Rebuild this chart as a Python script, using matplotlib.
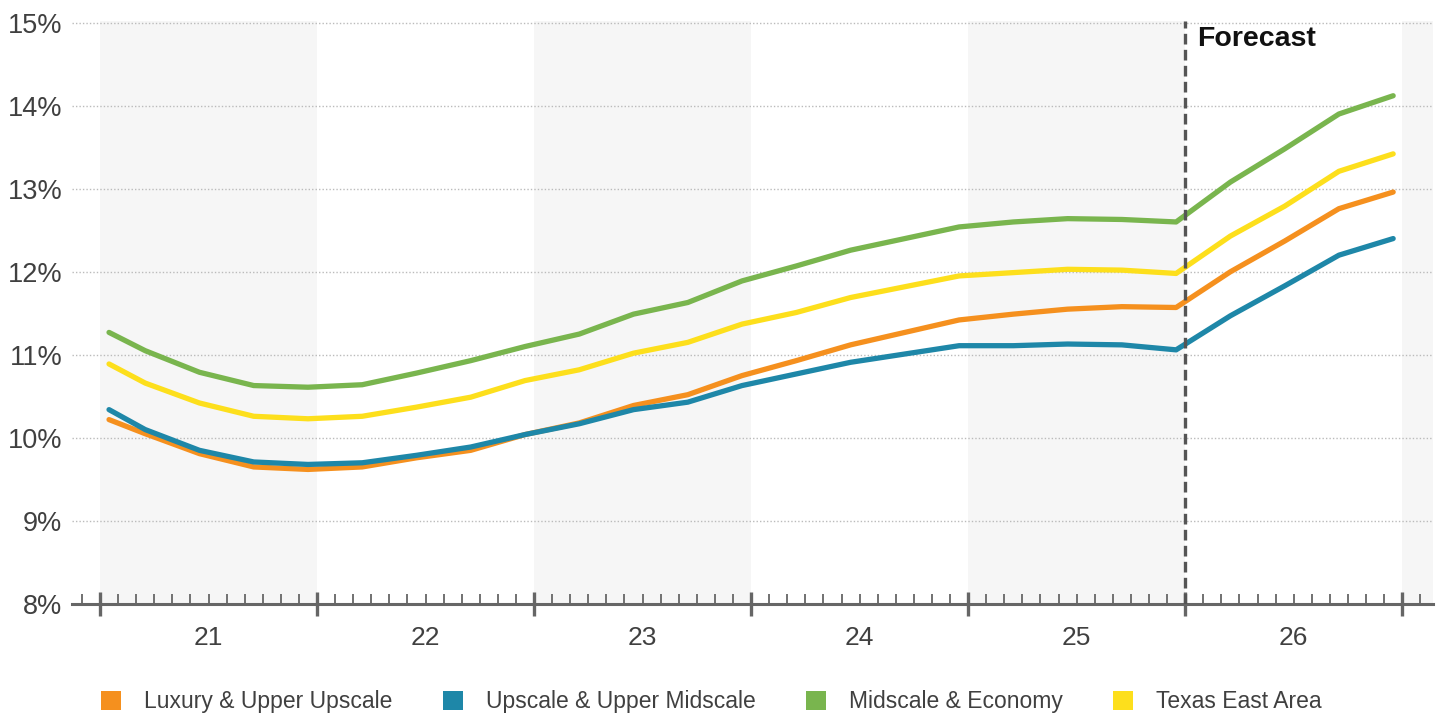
import matplotlib
matplotlib.use("Agg")
import matplotlib.pyplot as plt
from matplotlib.patches import Patch
import matplotlib.transforms as mtransforms

plt.rcParams['font.family'] = ['Liberation Sans', 'DejaVu Sans']

# Months since Jan 2021 (mid-month positions)
months = [0.5, 2.5, 5.5, 8.5, 11.5, 14.5, 17.5, 20.5, 23.5, 26.5, 29.5, 32.5,
          35.5, 38.5, 41.5, 44.5, 47.5, 50.5, 53.5, 56.5, 59.5, 62.5, 65.5, 68.5, 71.5]

luxury = [10.22, 10.05, 9.81, 9.65, 9.62, 9.65, 9.76, 9.85, 10.04, 10.18, 10.39, 10.52,
          10.75, 10.93, 11.12, 11.27, 11.42, 11.49, 11.55, 11.58, 11.57, 12.00, 12.37, 12.76, 12.96]
upscale = [10.34, 10.10, 9.85, 9.71, 9.68, 9.70, 9.79, 9.89, 10.04, 10.17, 10.34, 10.43,
           10.63, 10.77, 10.91, 11.01, 11.11, 11.11, 11.13, 11.12, 11.06, 11.47, 11.83, 12.20, 12.40]
midscale = [11.27, 11.05, 10.79, 10.63, 10.61, 10.64, 10.78, 10.93, 11.10, 11.25, 11.49, 11.63,
            11.89, 12.07, 12.26, 12.40, 12.54, 12.60, 12.64, 12.63, 12.60, 13.08, 13.48, 13.90, 14.12]
texas_east = [10.89, 10.66, 10.42, 10.26, 10.23, 10.26, 10.37, 10.49, 10.69, 10.82, 11.02, 11.15,
              11.37, 11.51, 11.69, 11.82, 11.95, 11.99, 12.03, 12.02, 11.98, 12.43, 12.79, 13.21, 13.42]

series_names = ["Luxury & Upper Upscale", "Upscale & Upper Midscale",
                "Midscale & Economy", "Texas East Area"]
series_values = [luxury, upscale, midscale, texas_east]
series_colors = ["#F5901E", "#1E87A8", "#79B54E", "#FDDF1C"]

year_labels = ["21", "22", "23", "24", "25", "26"]
y_ticks = [8, 9, 10, 11, 12, 13, 14, 15]
forecast_start = 60  # Jan 2026

fig = plt.figure(figsize=(14.39, 7.19), dpi=100)
ax = fig.add_axes([0.05, 0.160, 0.9458, 0.8108])

ax.set_xlim(-1.55, 73.7)
ax.set_ylim(8, 15.02)

# alternating year shading
for i in range(0, 8, 2):
    ax.axvspan(i * 12, (i + 1) * 12, color="#F6F6F6", zorder=0, lw=0)

# gridlines
for yv in y_ticks[1:]:
    ax.axhline(yv, color="#BBBBBB", lw=1.0, ls=(0, (1, 1.5)), zorder=1)

for name, vals, col in zip(series_names, series_values, series_colors):
    ax.plot(months, vals, color=col, lw=3.8, solid_capstyle='round',
            solid_joinstyle='round', zorder=3)

# forecast line
ax.axvline(forecast_start, color="#555555", lw=2.4, ls=(0, (3.2, 1.6)), zorder=4)
ax.text(forecast_start + 0.65, 14.8, "Forecast", fontsize=20.5, fontweight='bold',
        color="#111111", ha='left', va='center')

# axes styling
for s in ["top", "right", "left"]:
    ax.spines[s].set_visible(False)
ax.spines["bottom"].set_color("#666666")
ax.spines["bottom"].set_linewidth(2.2)

ax.set_yticks(y_ticks)
ax.set_yticklabels([f"{v}%" for v in y_ticks], fontsize=19.5, color="#404040")
ax.tick_params(axis='y', length=0, pad=7)

ax.set_xticks([12 * i for i in range(7)])
ax.set_xticklabels([])
ax.set_xticks([m for m in range(-1, 74) if m % 12 != 0], minor=True)
ax.tick_params(axis='x', which='major', direction='inout', length=17, width=2.4,
               color="#666666")
ax.tick_params(axis='x', which='minor', direction='in', length=7, width=1.3,
               color="#666666")

trans = mtransforms.blended_transform_factory(ax.transData, ax.transAxes)
for i, lab in enumerate(year_labels):
    ax.text(12 * i + 6, -0.058, lab, transform=trans, ha='center', va='center',
            fontsize=19, color="#404040")

handles = [Patch(facecolor=c, edgecolor='none') for c in series_colors]
fig.legend(handles, series_names, loc='center', bbox_to_anchor=(0.4945, 0.024),
           ncol=4, frameon=False, fontsize=16.5, handlelength=0.87, handleheight=0.87,
           handletextpad=1.0, columnspacing=2.2, labelcolor="#404040")

fig.savefig("out.png", dpi=100)
